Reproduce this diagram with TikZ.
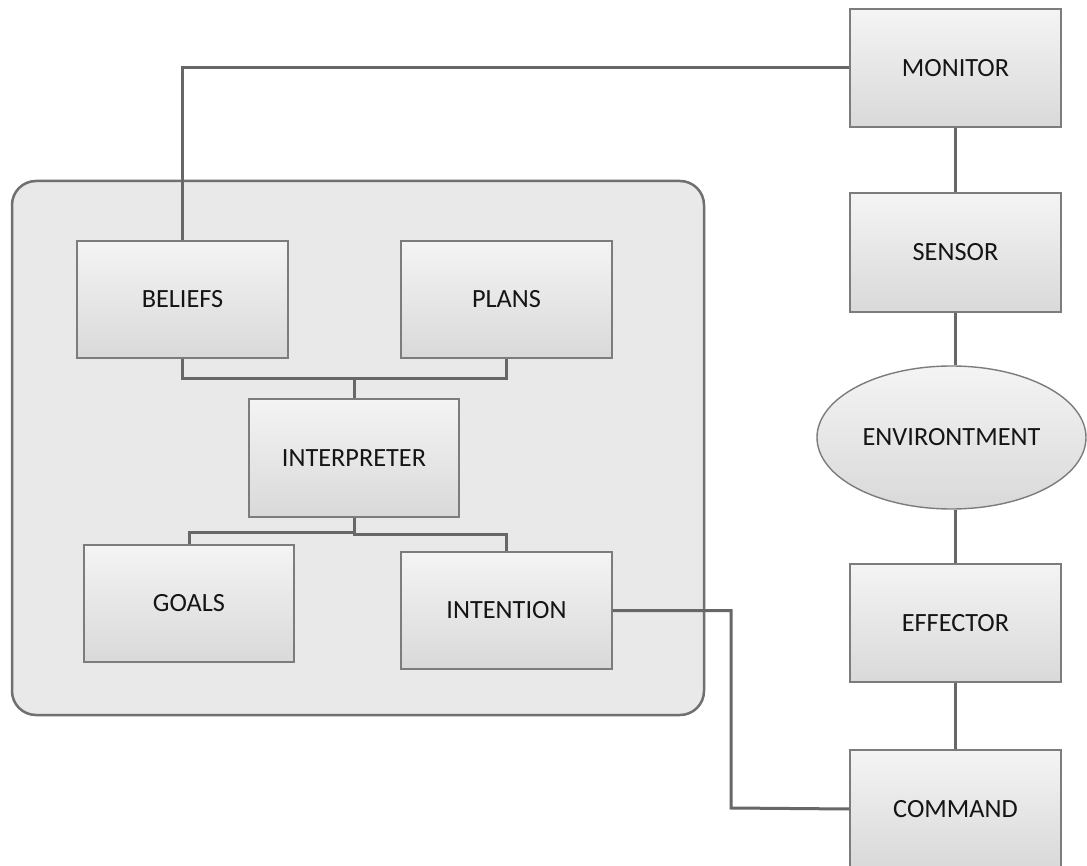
\documentclass[tikz,border=0pt]{standalone}
\usepackage{fontspec}
\setmainfont{Carlito}
\usetikzlibrary{shapes.geometric}
\definecolor{boxline}{HTML}{7C7C7C}
\definecolor{conline}{HTML}{676767}
\definecolor{contfill}{HTML}{E9E9E9}
\definecolor{contline}{HTML}{707070}
\definecolor{boxtop}{HTML}{F4F4F4}
\definecolor{boxbot}{HTML}{D9D9D9}
\definecolor{txt}{HTML}{151515}
\tikzset{
  blk/.style={rectangle, draw=boxline, line width=1.4pt, top color=boxtop, bottom color=boxbot,
    minimum width=211pt, minimum height=118pt, inner sep=0pt, text=txt,
    font=\fontsize{26.3}{31}\selectfont},
  ell/.style={ellipse, draw=boxline, line width=1.4pt, top color=boxtop, bottom color=boxbot,
    minimum width=269pt, minimum height=143pt, inner sep=0pt, text=txt,
    font=\fontsize{26.3}{31}\selectfont},
  con/.style={draw=conline, line width=3pt},
  container/.style={draw=contline, fill=contfill, line width=2.5pt, rounded corners=24pt}
}
\begin{document}
\begin{tikzpicture}[x=1pt,y=-1pt]
\useasboundingbox (0,0) rectangle (1087,866);
\fill[white] (0,0) rectangle (1087,866);
\draw[container] (12,181) rectangle (704,715);

\node[blk] (monitor) at (955.5,68) {MONITOR};
\node[blk, minimum height=119pt] (sensor) at (955.5,252.5) {SENSOR};
\node[ell] (env) at (951.5,437.5) {ENVIRONTMENT};
\node[blk] (effector) at (955.5,623) {EFFECTOR};
\node[blk] (command) at (955.5,809) {COMMAND};

\node[blk, minimum height=117pt] (beliefs) at (182.5,299.5) {BELIEFS};
\node[blk, minimum height=117pt] (plans) at (506.5,299.5) {PLANS};
\node[blk, minimum width=210pt] (interp) at (354,458) {INTERPRETER};
\node[blk, minimum width=210pt, minimum height=117pt] (goals) at (189,603.5) {GOALS};
\node[blk, minimum height=117pt] (intention) at (506.5,610.5) {INTENTION};

\coordinate (j1) at (354,379);
\coordinate (j2) at (354,532);
\coordinate (j3) at (354,534);
\coordinate (bend) at (731,808);

% right column
\draw[con] (monitor.south) -- (sensor.north);
\draw[con] (sensor.south) -- (sensor.south |- env.north);
\draw[con] (effector.north |- env.south) -- (effector.north);
\draw[con] (effector.south) -- (command.north);

% monitor to beliefs
\draw[con] (beliefs.north) |- (monitor.west);

% beliefs / plans to interpreter
\draw[con] (beliefs.south) |- (j1) -| (plans.south);
\draw[con] (j1) -- (interp.north);

% interpreter to goals / intention
\draw[con] (interp.south) -- (j2) -| (goals.north);
\draw[con] (j2) -- (j3) -| (intention.north);

% intention to command
\draw[con] (intention.east) -- (intention.east -| bend) -- (bend) -- (command.west);
\end{tikzpicture}
\end{document}
